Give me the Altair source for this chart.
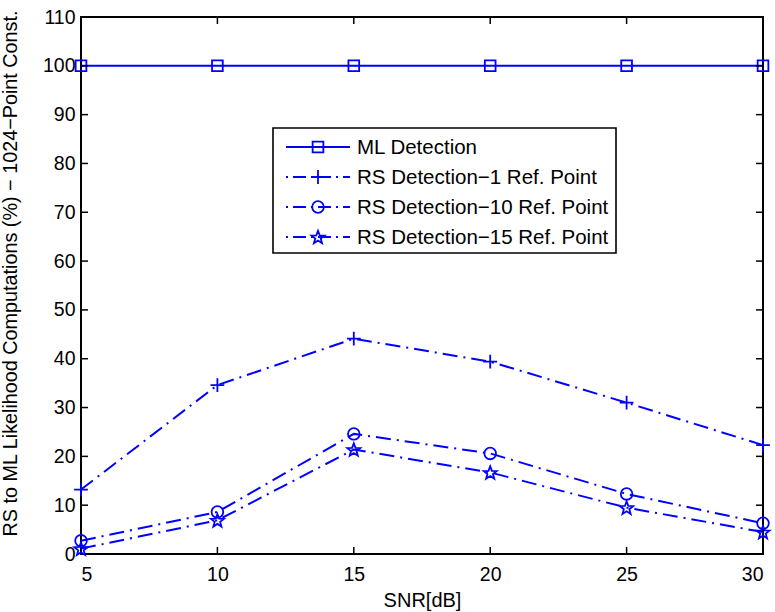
import altair as alt
import pandas as pd
import math

snr = [5, 10, 15, 20, 25, 30]
ml = [100, 100, 100, 100, 100, 100]
rs1 = [13.2, 34.6, 44.1, 39.4, 31.0, 22.3]
rs10 = [2.7, 8.6, 24.6, 20.6, 12.3, 6.3]
rs15 = [1.1, 6.9, 21.4, 16.7, 9.5, 4.5]
names = ["ML Detection", "RS Detection\u22121 Ref. Point",
         "RS Detection\u221210 Ref. Point", "RS Detection\u221215 Ref. Point"]
x_ticks = [5, 10, 15, 20, 25, 30]
y_ticks = [0, 10, 20, 30, 40, 50, 60, 70, 80, 90, 100, 110]

W, H = 682, 537
BLUE = "#0000FF"
FONT = "Liberation Sans"

PLUS = "M-1,0L1,0M0,-1L0,1"
pts = []
for k in range(10):
    r = 1.0 if k % 2 == 0 else 0.42
    a = -math.pi / 2 + k * math.pi / 5
    pts.append(f"{r*math.cos(a):.3f},{r*math.sin(a)+0.1:.3f}")
STAR = "M" + "L".join(pts) + "Z"

DD = [15, 6, 2, 6]
styles = [
    dict(shape="square", size=115, dash=[1, 0]),
    dict(shape=PLUS, size=190, dash=DD),
    dict(shape="circle", size=135, dash=DD),
    dict(shape=STAR, size=190, dash=DD),
]
series = [ml, rs1, rs10, rs15]

xs = alt.Scale(domain=[5, 30], nice=False)
ys = alt.Scale(domain=[0, 110], nice=False)

layers = []
for name, vals, st in zip(names, series, styles):
    df = pd.DataFrame({"snr": snr, "v": vals, "s": name})
    base = alt.Chart(df).encode(
        x=alt.X("snr:Q", scale=xs),
        y=alt.Y("v:Q", scale=ys),
    )
    layers.append(base.mark_line(color=BLUE, strokeWidth=2, strokeDash=st["dash"], clip=False))
    layers.append(base.mark_point(shape=st["shape"], size=st["size"], filled=False,
                                  color=BLUE, strokeWidth=1.8, opacity=1, clip=False))

# inward ticks (MATLAB style)
xt = pd.DataFrame({"t": x_ticks[1:-1]})
yt = pd.DataFrame({"t": y_ticks[1:-1]})
TL = 7
layers.append(alt.Chart(xt).mark_rule(color="black", strokeWidth=1.5).encode(
    x=alt.X("t:Q", scale=xs), y=alt.value(H), y2=alt.value(H - TL)))
layers.append(alt.Chart(xt).mark_rule(color="black", strokeWidth=1.5).encode(
    x=alt.X("t:Q", scale=xs), y=alt.value(0), y2=alt.value(TL)))
layers.append(alt.Chart(yt).mark_rule(color="black", strokeWidth=1.5).encode(
    y=alt.Y("t:Q", scale=ys), x=alt.value(0), x2=alt.value(TL)))
layers.append(alt.Chart(yt).mark_rule(color="black", strokeWidth=1.5).encode(
    y=alt.Y("t:Q", scale=ys), x=alt.value(W), x2=alt.value(W - TL)))

# legend box
LX0, LY0, LX1, LY1 = 192, 111, 535, 236
legdf = pd.DataFrame({"n": names})
layers.append(alt.Chart(legdf.head(1)).mark_rect(fill="white", stroke="black", strokeWidth=1.6).encode(
    x=alt.value(LX0), x2=alt.value(LX1), y=alt.value(LY0), y2=alt.value(LY1)))
for i, (name, st) in enumerate(zip(names, styles)):
    yy = 130 + i * 30
    one = pd.DataFrame({"n": [name]})
    ldash = [1, 0] if i == 0 else [13, 5, 2, 5]
    layers.append(alt.Chart(one).mark_rule(color=BLUE, strokeWidth=2, strokeDash=ldash,
                                           strokeDashOffset=0 if i == 0 else 18).encode(
        x=alt.value(205), x2=alt.value(269), y=alt.value(yy)))
    layers.append(alt.Chart(one).mark_point(shape=st["shape"], size=st["size"], filled=False,
                                            color=BLUE, strokeWidth=1.8, opacity=1).encode(
        x=alt.value(237), y=alt.value(yy)))
    layers.append(alt.Chart(one).mark_text(align="left", baseline="middle", font=FONT, fontSize=20.5,
                                           color="black").encode(
        x=alt.value(276), y=alt.value(yy + 1), text="n:N"))

axis_x = alt.Axis(values=x_ticks, ticks=False, grid=False, domain=False, labelFont=FONT,
                  labelFontSize=19.5, labelColor="black", labelPadding=11, title="SNR[dB]",
                  titleFont=FONT, titleFontSize=20, titleFontWeight="normal", titleColor="black",
                  titleBaseline="alphabetic", titleY=52)
axis_y = alt.Axis(values=y_ticks, ticks=False, grid=False, domain=False, labelFont=FONT,
                  labelFontSize=19.5, labelColor="black", labelPadding=6,
                  title="RS to ML Likelihood Computations (%) \u2212 1024\u2212Point Const.",
                  titleFont=FONT, titleFontSize=19.8, titleFontWeight="normal", titleColor="black",
                  titleBaseline="alphabetic", titleX=-65, titleY=256)

axes_layer = alt.Chart(pd.DataFrame({"snr": [5], "v": [0]})).mark_point(opacity=0).encode(
    x=alt.X("snr:Q", scale=xs, axis=axis_x),
    y=alt.Y("v:Q", scale=ys, axis=axis_y),
)

chart = alt.layer(axes_layer, *layers).properties(
    width=W, height=H,
    autosize=alt.AutoSizeParams(type="none"),
    padding={"left": 81, "top": 17, "right": 12, "bottom": 58},
    background="white",
).configure_view(stroke="black", strokeWidth=2)

chart.save("out.html", embed_options={"renderer": "svg", "actions": False})
